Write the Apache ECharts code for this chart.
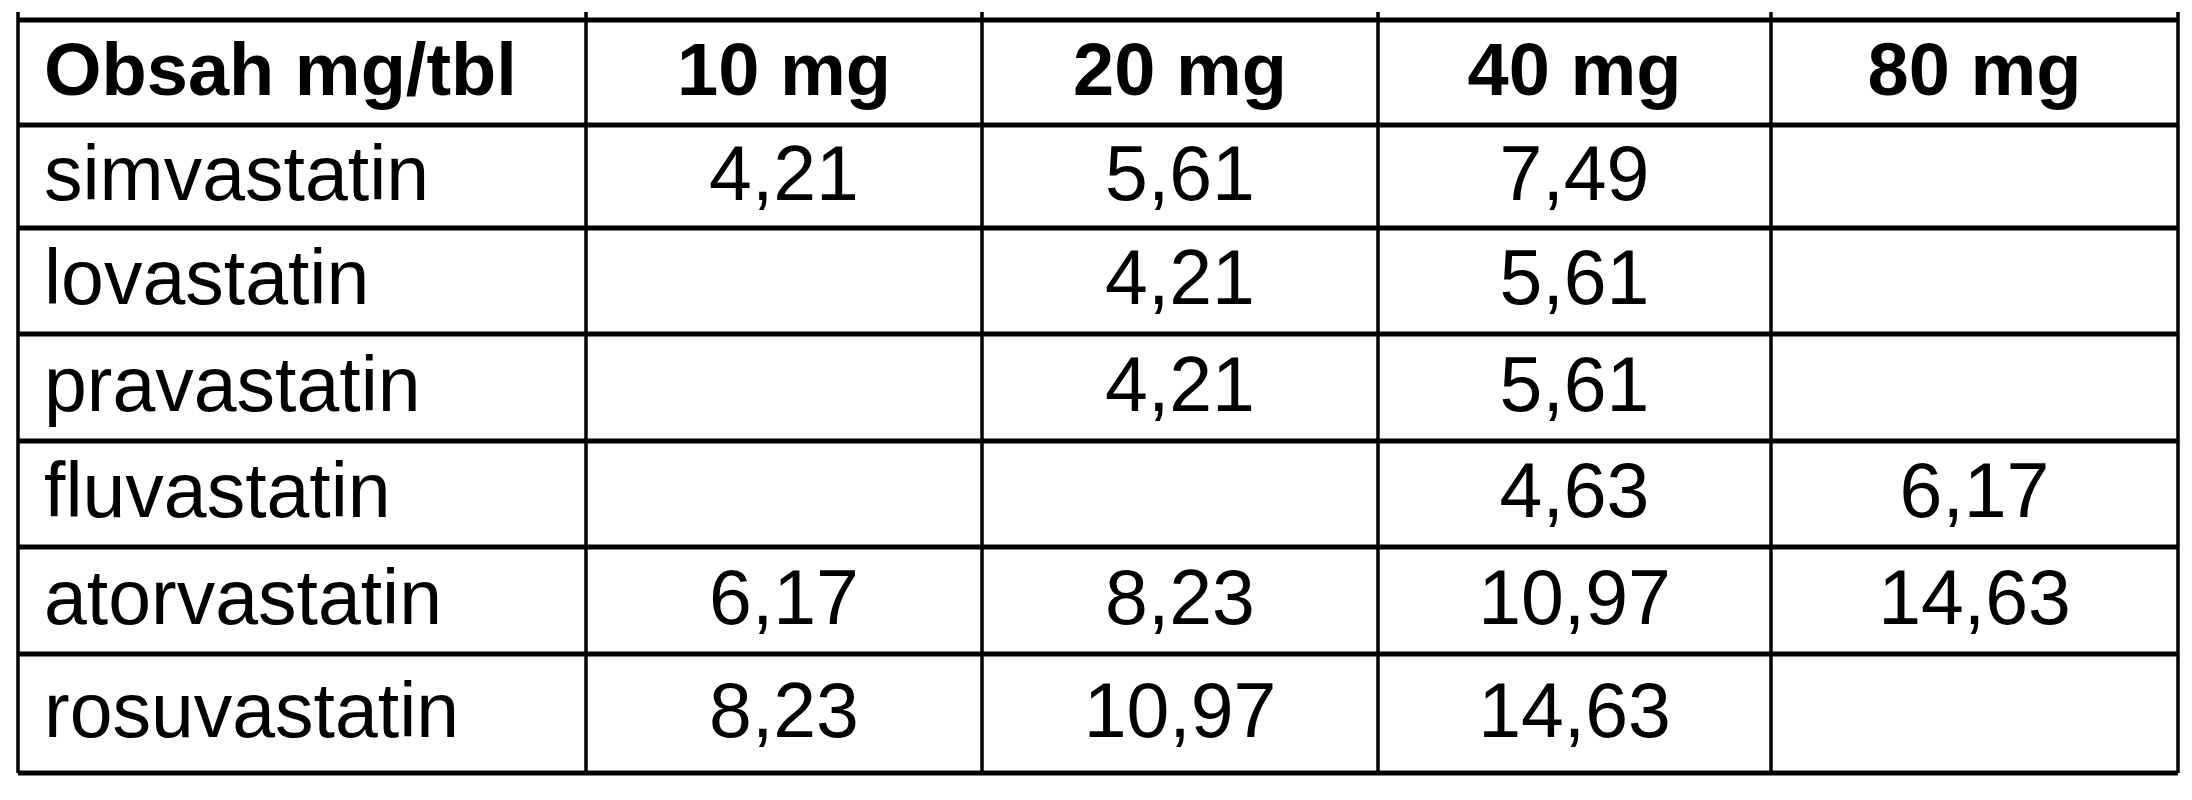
<!DOCTYPE html><html><head><meta charset="utf-8">
<script src="https://cdn.jsdelivr.net/npm/echarts@6/dist/echarts.min.js"></script>
<style>html,body{margin:0;background:#fff}#c{width:2192px;height:800px}</style></head><body><div id="c"></div>
<script>
const headers = ["Obsah mg/tbl", "10 mg", "20 mg", "40 mg", "80 mg"];
const drugs = ["simvastatin", "lovastatin", "pravastatin", "fluvastatin", "atorvastatin", "rosuvastatin"];
const dose10 = ["4,21", "", "", "", "6,17", "8,23"];
const dose20 = ["5,61", "4,21", "4,21", "", "8,23", "10,97"];
const dose40 = ["7,49", "5,61", "5,61", "4,63", "10,97", "14,63"];
const dose80 = ["", "", "", "6,17", "14,63", ""];

const colX = [18, 586, 982, 1378, 1771, 2178];
const rowY = [20, 125, 228, 334, 441, 547, 654, 773];
const els = [];
const font = 'Liberation Sans, Arial, sans-serif';
const cols = [drugs, dose10, dose20, dose40, dose80];
for (let c = 0; c < 5; c++) {
  const cx = (colX[c] + colX[c + 1]) / 2;
  els.push({type:'text', style:{text:headers[c], x: c===0?44:cx, y:(rowY[0]+rowY[1])/2+2, align:c===0?'left':'center', verticalAlign:'middle', font:'bold 74px '+font, fill:'#000'}});
  for (let r = 0; r < 6; r++) {
    const t = cols[c][r];
    if (!t) continue;
    els.push({type:'text', style:{text:t, x: c===0?44:cx, y:(rowY[r+1]+rowY[r+2])/2+2, align:c===0?'left':'center', verticalAlign:'middle', font:'77px '+font, fill:'#000'}});
  }
}
rowY.forEach(y => els.push({type:'line', shape:{x1:colX[0], y1:y, x2:colX[5], y2:y}, style:{stroke:'#000', lineWidth:5}}));
colX.forEach(x => els.push({type:'line', shape:{x1:x, y1:rowY[0]-8, x2:x, y2:rowY[7]}, style:{stroke:'#000', lineWidth:3.5}}));
const chart = echarts.init(document.getElementById('c'));
chart.setOption({animation:false, graphic:{elements:els}});
</script></body></html>
